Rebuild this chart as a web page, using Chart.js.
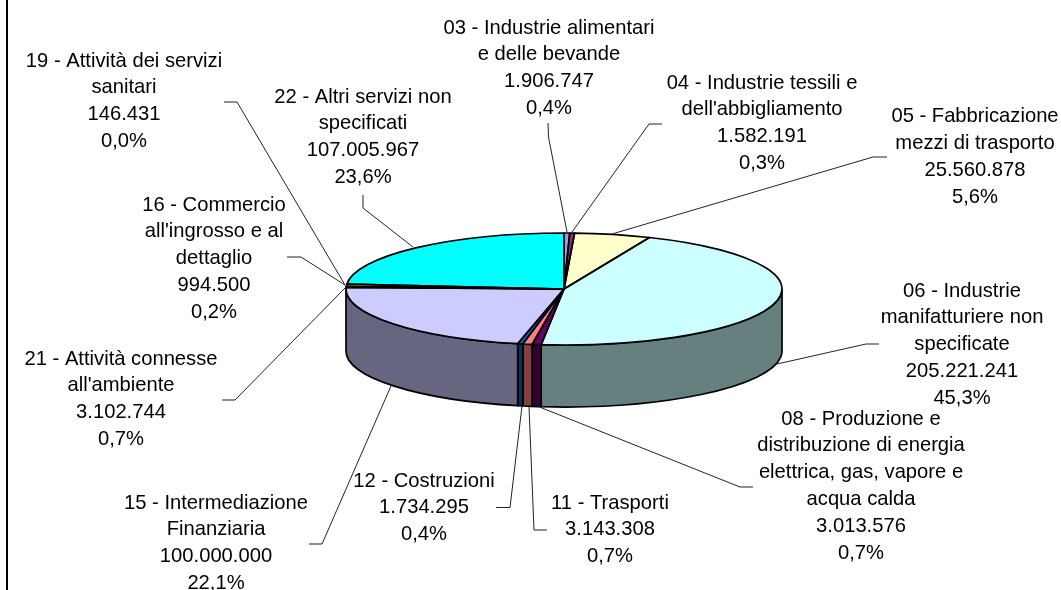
<!DOCTYPE html>
<html><head><meta charset="utf-8">
<style>html,body{margin:0;padding:0;background:#fff}canvas{display:block}</style>
<script src="https://cdn.jsdelivr.net/npm/chart.js@4/dist/chart.umd.js"></script>
</head><body>
<canvas id="c" width="1061" height="590"></canvas>
<script>
const categories = [
  ["03 - Industrie alimentari","e delle bevande"],
  ["04 - Industrie tessili e","dell'abbigliamento"],
  ["05 - Fabbricazione","mezzi di trasporto"],
  ["06 - Industrie","manifatturiere non","specificate"],
  ["08 - Produzione e","distribuzione di energia","elettrica, gas, vapore e","acqua calda"],
  ["11 - Trasporti"],
  ["12 - Costruzioni"],
  ["15 - Intermediazione","Finanziaria"],
  ["16 - Commercio","all'ingrosso e al","dettaglio"],
  ["19 - Attività dei servizi","sanitari"],
  ["21 - Attività connesse","all'ambiente"],
  ["22 - Altri servizi non","specificati"]
];
const values = [1906747,1582191,25560878,205221241,3013576,3143308,1734295,100000000,994500,146431,3102744,107005967];
const topColors = ["#9999FF","#993366","#FFFFCC","#CCFFFF","#660066","#FF8080","#0066CC","#CCCCFF","#000080","#FF00FF","#FFFF00","#00FFFF"];
const sideColors = ["#4D4D80","#4D1A33","#808066","#668080","#330033","#804040","#003366","#666680","#000040","#800080","#808000","#008080"];

// layout of labels: centre x, y of first line centre
const labelX = [549,762,975,962,861,610,424,216,214,124,121,363];
const labelY = [28,83,116.5,291,419,503,481,503,205,61,359,97];
// leader polylines (annotation layout, not data marks)
const leaders = [
  [[548,123],[548.5,137],[567,232]],
  [[662,124],[649,124],[572,232]],
  [[887,157],[873,157],[612,234]],
  [[879,344],[866,344],[777,364]],
  [[753,487],[740,487],[537,406]],
  [[547,530],[534,530],[529,407]],
  [[496,507.5],[510,507.5],[522,406]],
  [[309,544],[322,544],[391,386]],
  [[287,257],[301,257],[345,285]],
  [[224,102],[237,102],[345,285]],
  [[222,400],[235,400],[346,287]],
  [[363,195],[363,208],[413,247]]
];
const squash = 56/218, depth = 62, lineH = 26.9, fontPx = 20.2, outline = 1.7;
const total = values.reduce((a,b)=>a+b,0);
const fmtInt = v => String(v).replace(/\B(?=(\d{3})+$)/g,".");
const fmtPct = v => (v/total*100).toFixed(1).replace(".",",")+"%";

const pie3d = {
  id:"pie3d",
  beforeDatasetsDraw(chart){
    const ctx = chart.ctx, arcs = chart.getDatasetMeta(0).data;
    const {x:cx,y:cy,outerRadius:r} = arcs[0], ry = r*squash;
    ctx.save();
    ctx.fillStyle="#000"; ctx.fillRect(6,0,2,590);
    ctx.strokeStyle="#000"; ctx.lineWidth=outline; ctx.lineJoin="round";
    arcs.forEach((a,i)=>{
      const a0=Math.max(a.startAngle,0), a1=Math.min(a.endAngle,Math.PI);
      if(a1<=a0) return;
      ctx.beginPath();
      ctx.ellipse(cx,cy,r,ry,0,a0,a1);
      ctx.ellipse(cx,cy+depth,r,ry,0,a1,a0,true);
      ctx.closePath();
      ctx.fillStyle=sideColors[i]; ctx.fill(); ctx.stroke();
    });
    ctx.restore();
    ctx.save();
    ctx.translate(cx,cy); ctx.scale(1,squash); ctx.translate(-cx,-cy);
  },
  afterDatasetsDraw(chart){
    const ctx = chart.ctx, arcs = chart.getDatasetMeta(0).data;
    ctx.restore();
    const {x:cx,y:cy,outerRadius:r} = arcs[0], ry = r*squash;
    ctx.save();
    ctx.strokeStyle="#000"; ctx.lineWidth=outline; ctx.lineJoin="round";
    arcs.forEach(a=>{
      ctx.beginPath();
      ctx.moveTo(cx,cy);
      ctx.ellipse(cx,cy,r,ry,0,a.startAngle,a.endAngle);
      ctx.closePath();
      ctx.stroke();
    });
    ctx.strokeStyle="#222"; ctx.lineWidth=1;
    leaders.forEach(l=>{
      ctx.beginPath();
      l.forEach((p,i)=> i?ctx.lineTo(p[0],p[1]):ctx.moveTo(p[0],p[1]));
      ctx.stroke();
    });
    ctx.fillStyle="#000"; ctx.textAlign="center"; ctx.textBaseline="middle";
    ctx.font=fontPx+'px "Liberation Sans", Arial, sans-serif';
    categories.forEach((cat,i)=>{
      const lines=[...cat,fmtInt(values[i]),fmtPct(values[i])];
      lines.forEach((t,k)=>ctx.fillText(t,labelX[i],labelY[i]+k*lineH));
    });
    ctx.restore();
  }
};

new Chart(document.getElementById("c"),{
  type:"pie",
  data:{labels:categories.map(c=>c.join(" ")),datasets:[{data:values,backgroundColor:topColors,borderWidth:0}]},
  options:{
    responsive:false,animation:false,
    events:[],
    layout:{padding:{left:346,right:279,top:71,bottom:83}},
    plugins:{legend:{display:false},tooltip:{enabled:false},title:{display:false}}
  },
  plugins:[pie3d]
});
</script>
</body></html>
